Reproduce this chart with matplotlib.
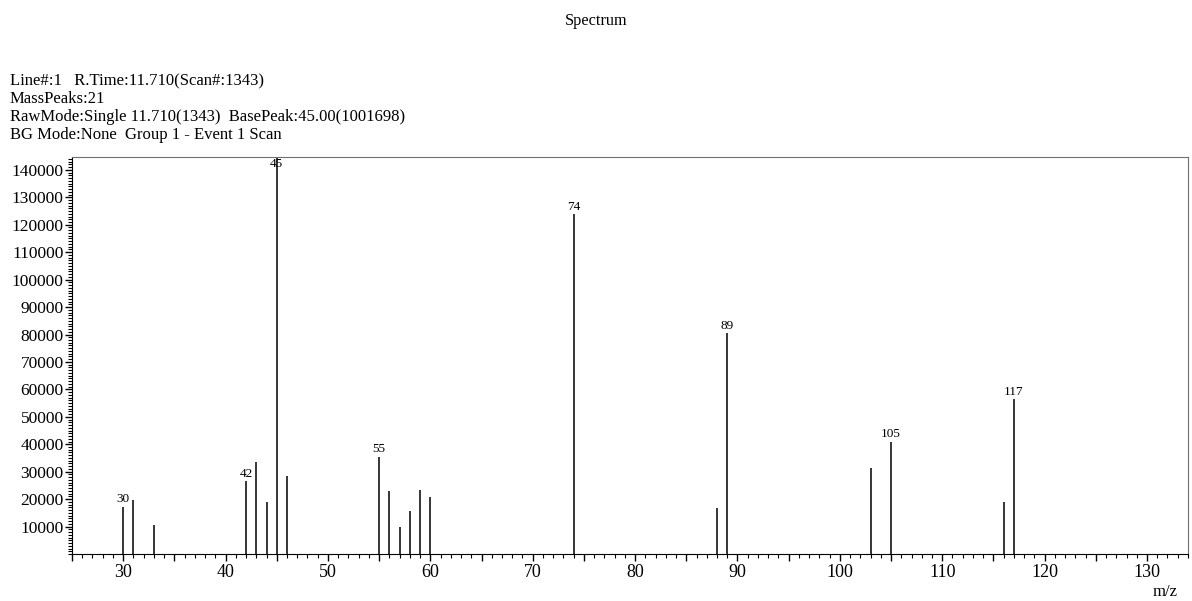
import numpy as np
import matplotlib
matplotlib.use("Agg")
import matplotlib.pyplot as plt
from matplotlib.ticker import MultipleLocator

# ----------------------------
# Data
# ----------------------------
mz = [30, 31, 33, 42, 43, 44, 45, 46, 55, 56, 57, 58, 59, 60,
      74, 88, 89, 103, 105, 116, 117]
intensity = [17300, 19500, 10400, 26500, 33400, 19100, 1001698, 28600,
             35500, 23100, 10000, 15500, 23500, 20600,
             123900, 16800, 80500, 31400, 41000, 18800, 56500]
labeled = [30, 42, 45, 55, 74, 89, 105, 117]

header_lines = [
    "Line#:1   R.Time:11.710(Scan#:1343)",
    "MassPeaks:21",
    "RawMode:Single 11.710(1343)  BasePeak:45.00(1001698)",
    "BG Mode:None  Group 1 - Event 1 Scan",
]
y_ticks = list(range(10000, 140001, 10000))
x_ticks = list(range(30, 131, 10))

# ----------------------------
# Figure
# ----------------------------
plt.rcParams['font.family'] = ['Liberation Serif', 'DejaVu Serif']

fig = plt.figure(figsize=(11.92, 6.01), dpi=100)
ax = fig.add_axes([0.0604, 0.0782, 0.9362, 0.6606])

ax.vlines(mz, 0, intensity, color='black', linewidth=1.1)

ymax = 144700
ax.set_xlim(25, 134)
ax.set_ylim(0, ymax)

# peak labels, the base peak is clipped so its label sits at the top
for m, v in zip(mz, intensity):
    if m not in labeled:
        continue
    if v >= ymax:
        ax.annotate(str(m), (m, ymax), xytext=(0, -1), textcoords='offset points',
                    ha='center', va='top', fontsize=9.5)
    else:
        ax.annotate(str(m), (m, v), xytext=(0, 1), textcoords='offset points',
                    ha='center', va='bottom', fontsize=9.5)

ax.set_yticks(y_ticks)
ax.set_yticklabels([str(t) for t in y_ticks])
ax.yaxis.set_minor_locator(MultipleLocator(1000))
ax.set_xticks(list(range(25, 135, 5)))
ax.set_xticklabels([str(t) if t in x_ticks else "" for t in range(25, 135, 5)])
ax.xaxis.set_minor_locator(MultipleLocator(1))

ax.tick_params(axis='both', which='major', direction='out', length=5, width=1)
ax.tick_params(axis='x', which='major', labelsize=13, pad=2.5)
ax.tick_params(axis='y', which='major', labelsize=12.5, pad=1)
ax.tick_params(axis='both', which='minor', direction='out', length=3, width=0.8)

for side in ['top', 'right']:
    ax.spines[side].set_color('#707070')
for side in ['left', 'bottom']:
    ax.spines[side].set_color('black')

fig.text(1165 / 1192, 1 - 592 / 601, "m/z", ha='center', va='center', fontsize=12)

fig.text(0.5, 1 - 21 / 601, "Spectrum", ha='center', va='center', fontsize=11.7)
for i, line in enumerate(header_lines):
    fig.text(10 / 1192, 1 - (81 + 18 * i) / 601, line, ha='left', va='center', fontsize=12)

fig.savefig("out.png", dpi=100)
